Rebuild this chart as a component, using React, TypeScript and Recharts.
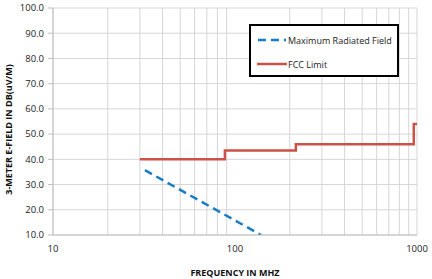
import { LineChart, Line, XAxis, YAxis, CartesianGrid, Legend, Label, ReferenceLine } from "recharts";

// frequency axis (MHz, log) and field strength axis (dBuV/m)
const decadeTicks = [10, 100, 1000];
const minorFreqs = [20, 30, 40, 50, 60, 70, 80, 90, 200, 300, 400, 500, 600, 700, 800, 900];
const dbTicks = [10, 20, 30, 40, 50, 60, 70, 80, 90, 100];

// Maximum Radiated Field (dashed blue)
const fieldFreq = [32, 60, 100, 139];
const fieldDb = [35.7, 24.7, 15.8, 10];

// FCC Limit (red step)
const limitFreq = [30, 88, 216, 960, 1000];
const limitDb = [40, 43.5, 46, 54, 54];

const seriesNames = ["Maximum Radiated Field", "FCC Limit"];
const BLUE = "#1a7cc6";
const RED = "#cc5148";
const GRID = "#d6d6d6";

const fieldData = fieldFreq.map((f, i) => ({ f, v: fieldDb[i] }));
const limitData = limitFreq.map((f, i) => ({ f, v: limitDb[i] }));

const font = "'Open Sans', sans-serif";

function LegendBox() {
  return (
    <div
      style={{
        boxSizing: "border-box",
        width: 150,
        height: 53,
        border: "2px solid #000",
        background: "#fff",
        fontFamily: font,
        fontSize: 9,
        color: "#222",
        paddingLeft: 6,
        whiteSpace: "nowrap",
      }}
    >
      <div style={{ display: "flex", alignItems: "center", height: 24, marginTop: 2 }}>
        <svg width={30} height={6}>
          <line x1={1} y1={3} x2={29} y2={3} stroke={BLUE} strokeWidth={2.5} strokeDasharray="8 5" />
        </svg>
        <span style={{ marginLeft: 1 }}>{seriesNames[0]}</span>
      </div>
      <div style={{ display: "flex", alignItems: "center", height: 24 }}>
        <svg width={30} height={6}>
          <line x1={0} y1={3} x2={30} y2={3} stroke={RED} strokeWidth={2.5} />
        </svg>
        <span style={{ marginLeft: 1 }}>{seriesNames[1]}</span>
      </div>
    </div>
  );
}

export default function App() {
  return (
    <div style={{ position: "absolute", left: 0, top: 0 }}>
      <LineChart width={432} height={279} margin={{ top: 8, right: 15, bottom: 0, left: 0 }}>
        <CartesianGrid stroke={GRID} />
        {minorFreqs.map((f) => (
          <ReferenceLine key={f} x={f} stroke={GRID} strokeWidth={1} />
        ))}
        {/* decade labels under the frequency axis */}
        {decadeTicks.map((f) => (
          <ReferenceLine
            key={`lab-${f}`}
            x={f}
            stroke="none"
            label={{
              value: String(f),
              position: "bottom",
              offset: 10,
              style: { fill: "#222", fontSize: 9.5, fontFamily: font },
            }}
          />
        ))}
        <XAxis
          dataKey="f"
          type="number"
          scale="log"
          domain={[10, 1000]}
          ticks={decadeTicks}
          interval={0}
          allowDataOverflow
          tick={false}
          tickSize={3}
          height={44}
          stroke="#bfbfbf"
        >
          <Label
            value="FREQUENCY IN MHZ"
            position="insideBottom"
            offset={3}
            style={{ fill: "#111", fontSize: 9, fontWeight: 700, fontFamily: font }}
          />
        </XAxis>
        <YAxis
          type="number"
          domain={[10, 100]}
          ticks={dbTicks}
          allowDataOverflow
          tickFormatter={(v: number) => v.toFixed(1)}
          tickSize={5}
          tickMargin={4}
          width={53}
          stroke="#bfbfbf"
          tick={{ fill: "#222", fontSize: 9.5, fontFamily: font }}
        >
          <Label
            content={({ viewBox }: any) => (
              <text
                x={viewBox.x + 12}
                y={viewBox.y + viewBox.height / 2 + 8}
                transform={`rotate(-90, ${viewBox.x + 12}, ${viewBox.y + viewBox.height / 2 + 8})`}
                textAnchor="middle"
                style={{ fill: "#111", fontSize: 9, fontWeight: 700, fontFamily: font }}
              >
                3-METER E-FIELD IN DB(uV/M)
              </text>
            )}
          />
        </YAxis>
        <Legend
          layout="horizontal"
          verticalAlign="middle"
          align="center"
          width={150}
          height={53}
          wrapperStyle={{ left: 249, top: 24, width: 150, height: 53 }}
          content={() => <LegendBox />}
        />
        <Line
          data={limitData}
          dataKey="v"
          name={seriesNames[1]}
          type="stepAfter"
          stroke={RED}
          strokeWidth={2.5}
          dot={false}
          isAnimationActive={false}
        />
        <Line
          data={fieldData}
          dataKey="v"
          name={seriesNames[0]}
          type="linear"
          stroke={BLUE}
          strokeWidth={2.5}
          strokeDasharray="8 5"
          dot={false}
          isAnimationActive={false}
        />
      </LineChart>
    </div>
  );
}
